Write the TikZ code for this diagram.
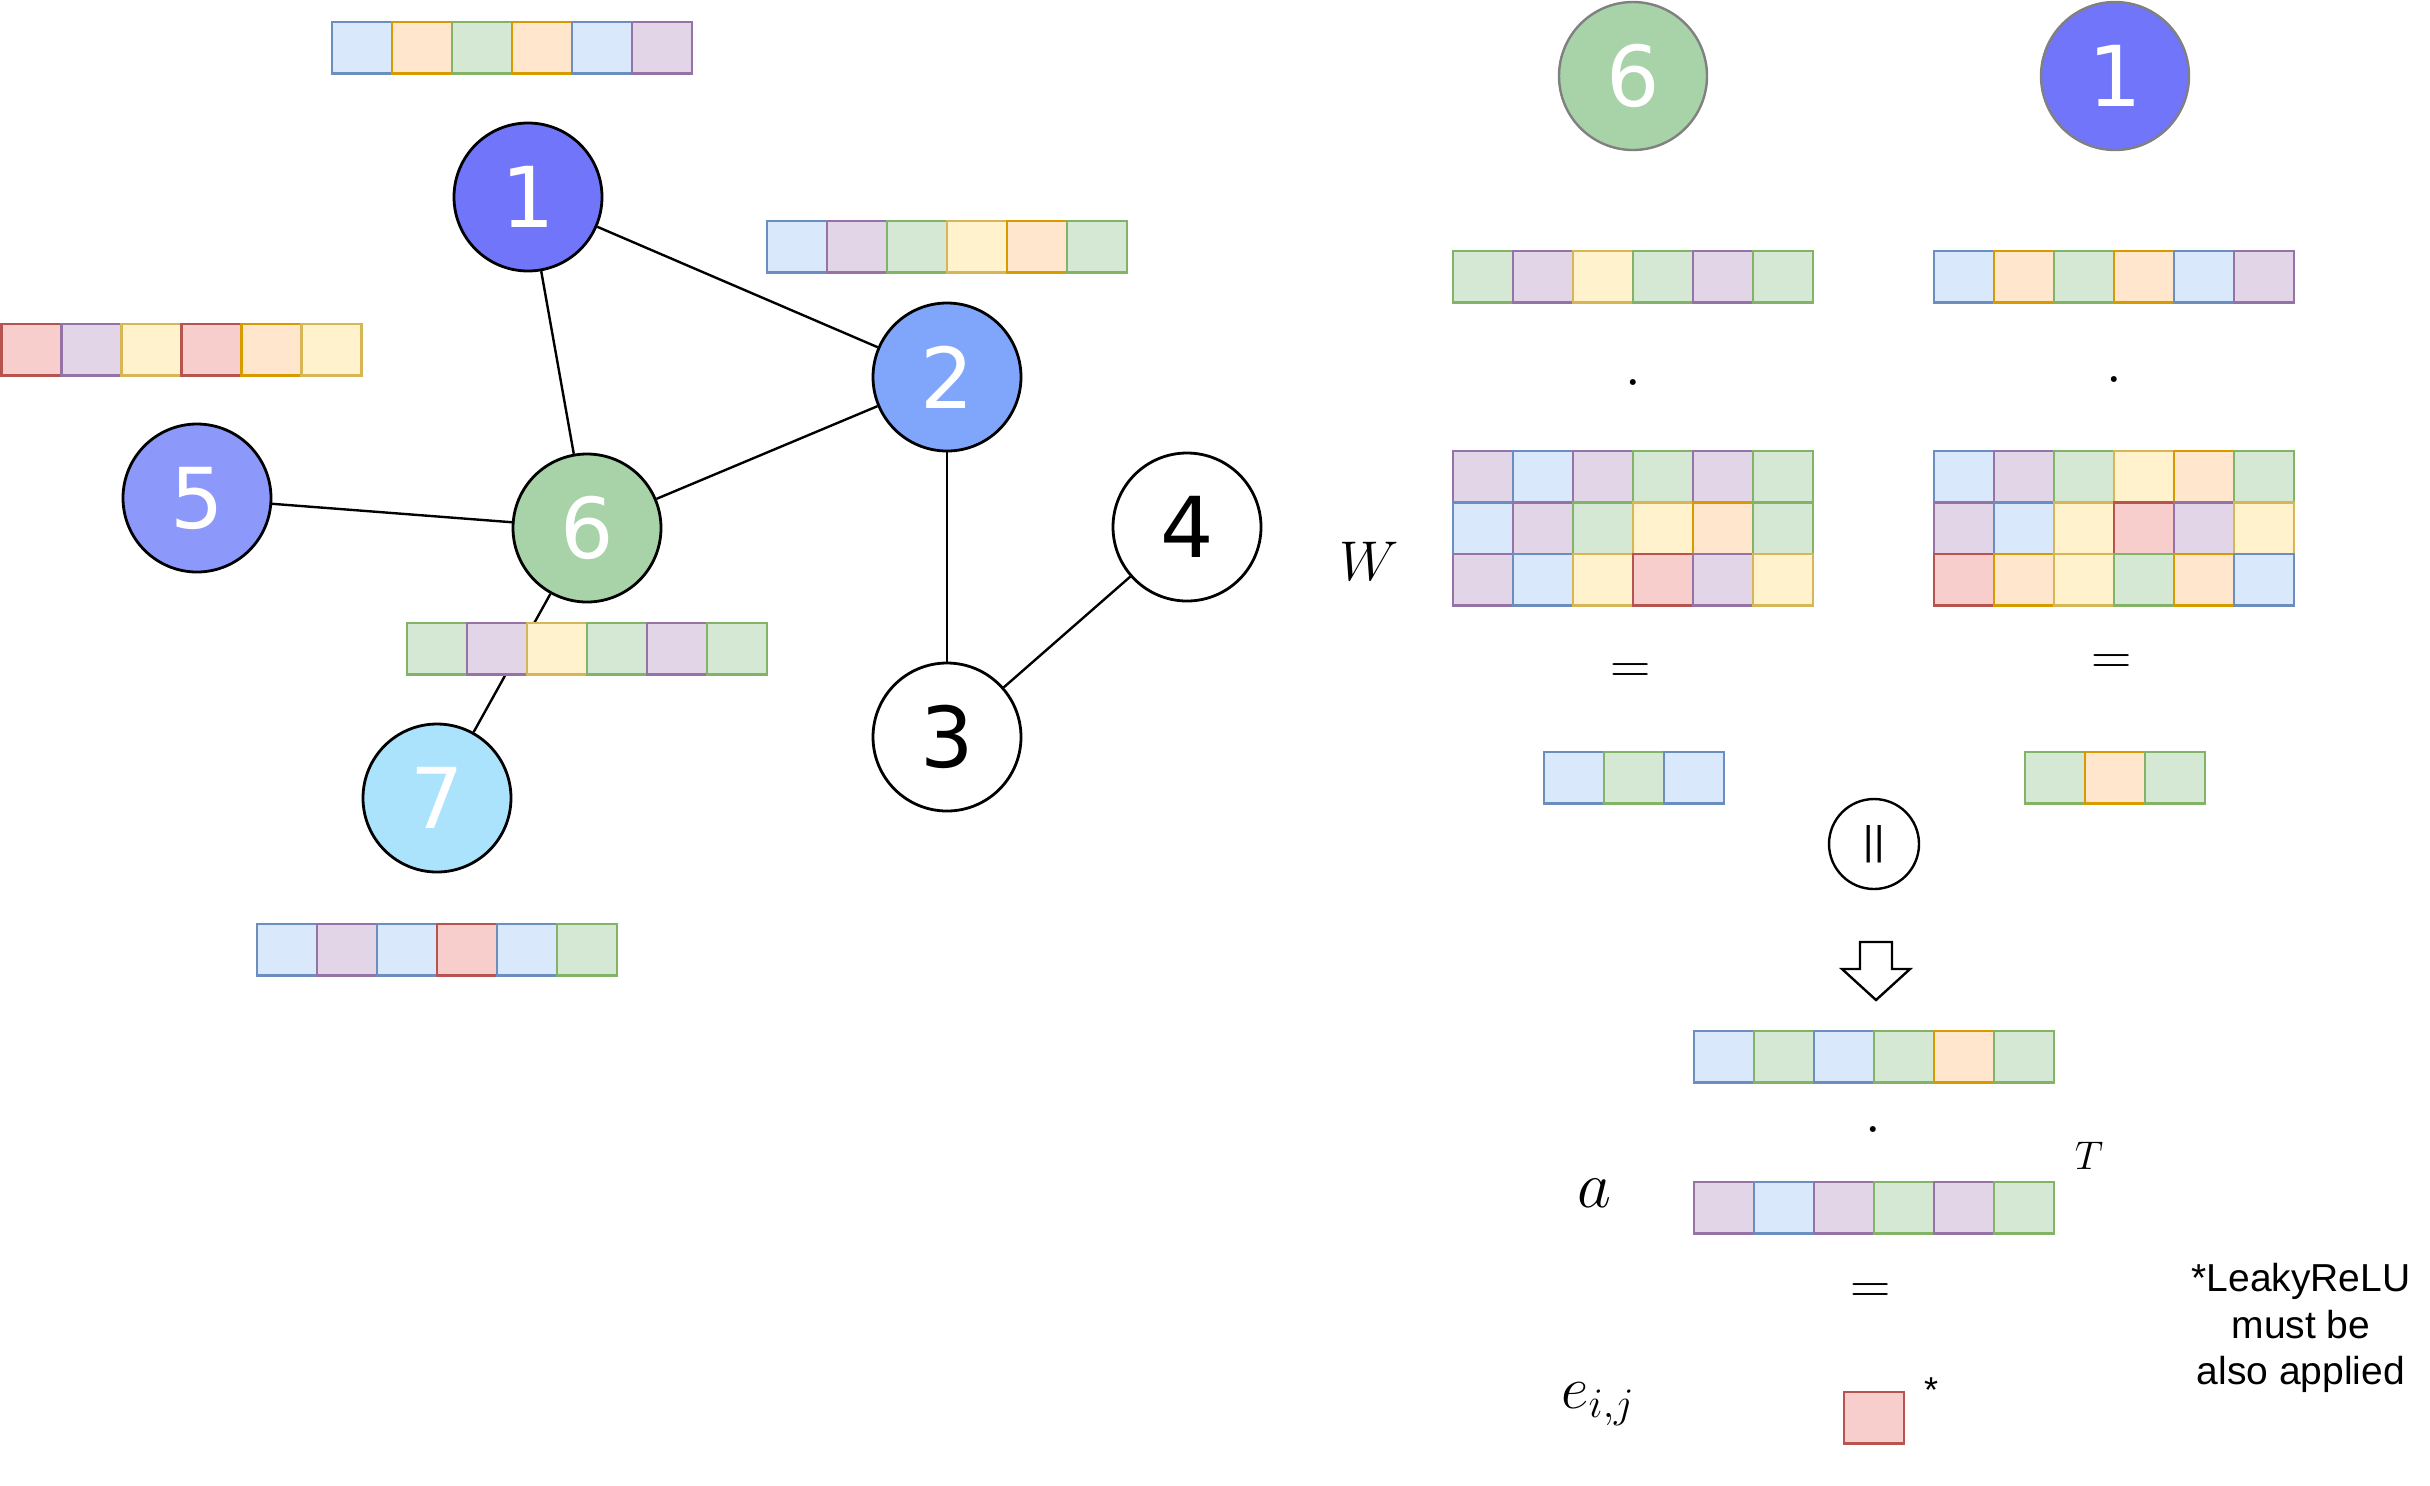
\RequirePackage{fix-cm}
\documentclass[tikz,border=0pt]{standalone}
\usepackage{fontspec}
\newfontfamily\numfont{DejaVu Sans}
\newfontfamily\notefont{Liberation Sans}
\definecolor{fB}{HTML}{DAE8FC}\definecolor{sB}{HTML}{6C8EBF}
\definecolor{fO}{HTML}{FFE6CC}\definecolor{sO}{HTML}{D79B00}
\definecolor{fG}{HTML}{D5E8D4}\definecolor{sG}{HTML}{82B366}
\definecolor{fY}{HTML}{FFF2CC}\definecolor{sY}{HTML}{D6B656}
\definecolor{fP}{HTML}{E1D5E7}\definecolor{sP}{HTML}{9673A6}
\definecolor{fR}{HTML}{F8CECC}\definecolor{sR}{HTML}{B85450}
\definecolor{nOne}{HTML}{7175F9}
\definecolor{nTwo}{HTML}{7FA6FB}
\definecolor{nFive}{HTML}{8C98FA}
\definecolor{nSix}{HTML}{A8D2A7}
\definecolor{nSeven}{HTML}{ABE3FC}
\definecolor{rimgray}{HTML}{808080}
\newcommand\vecbar[3]{%
  \foreach \c [count=\i from 0] in {#3} {\draw[cell,\c] ({#1+\i*60},#2) rectangle ++(60,51.5);}}
\begin{document}
\begin{tikzpicture}[x=0.5pt,y=-0.5pt,
  cell/.style={line width=1.4pt},
  cb/.style={fill=fB,draw=sB}, co/.style={fill=fO,draw=sO},
  cg/.style={fill=fG,draw=sG}, cy/.style={fill=fY,draw=sY},
  cp/.style={fill=fP,draw=sP}, cr/.style={fill=fR,draw=sR},
  gnode/.style={circle,draw=black,line width=1.4pt,minimum size=74pt,inner sep=0pt,
    font=\numfont\fontsize{42}{42}\selectfont},
  rnode/.style={gnode,draw=rimgray,line width=1.2pt},
  edge/.style={line width=1.2pt},
  mathlbl/.style={inner sep=0pt,font=\fontsize{28}{28}\selectfont},
  oplbl/.style={inner sep=0pt,font=\fontsize{28}{28}\selectfont},
]
\useasboundingbox (0,0) rectangle (2430,1485);

% graph nodes
\node[gnode,fill=nOne,text=white] (n1) at (528,197) {1};
\node[gnode,fill=nTwo,text=white] (n2) at (947,377) {2};
\node[gnode,fill=nFive,text=white] (n5) at (197,498) {5};
\node[gnode,fill=nSix,text=white] (n6) at (587,528) {6};
\node[gnode,fill=white] (n4) at (1187,527) {4};
\node[gnode,fill=white] (n3) at (947,737) {3};
\node[gnode,fill=nSeven,text=white] (n7) at (437,798) {7};

\draw[edge] (n1) -- (n2);
\draw[edge] (n1) -- (n6);
\draw[edge] (n2) -- (n6);
\draw[edge] (n5) -- (n6);
\draw[edge] (n2) -- (n3);
\draw[edge] (n3) -- (n4);
\draw[edge] (n6) -- (n7);

% feature vectors of the graph
\vecbar{332}{22}{cb,co,cg,co,cb,cp}
\vecbar{767}{221}{cb,cp,cg,cy,co,cg}
\vecbar{1.5}{324}{cr,cp,cy,cr,co,cy}
\vecbar{407}{623}{cg,cp,cy,cg,cp,cg}
\vecbar{257}{924}{cb,cp,cb,cr,cb,cg}

% right part
\node[rnode,fill=nSix,text=white] (r6) at (1633,76) {6};
\node[rnode,fill=nOne,text=white] (r1) at (2115,76) {1};

\vecbar{1453}{251}{cg,cp,cy,cg,cp,cg}
\vecbar{1934}{251}{cb,co,cg,co,cb,cp}

\node[oplbl] (dotL) at (1633,384) {$\cdot$};
\node[oplbl] (dotR) at (2114,381) {$\cdot$};

\vecbar{1453}{451}{cp,cb,cp,cg,cp,cg}
\vecbar{1453}{502.5}{cb,cp,cg,cy,co,cg}
\vecbar{1453}{554}{cp,cb,cy,cr,cp,cy}
\vecbar{1934}{451}{cb,cp,cg,cy,co,cg}
\vecbar{1934}{502.5}{cp,cb,cy,cr,cp,cy}
\vecbar{1934}{554}{cr,co,cy,cg,co,cb}

\node[mathlbl] (W) at (1369,561) {$W$};

\node[oplbl] (eqL) at (1631,674) {$=$};
\node[oplbl] (eqR) at (2112,665) {$=$};

\vecbar{1544}{752}{cb,cg,cb}
\vecbar{2025}{752}{cg,co,cg}

\node[circle,draw=black,line width=1.2pt,minimum size=45pt,inner sep=0pt,
  font=\notefont\fontsize{20}{20}\selectfont] (cat) at (1874,844) {||};

\draw[line width=1.2pt,line join=miter,fill=white] (1860,942) -- (1892,942) -- (1892,969) -- (1910,969)
  -- (1876,1000) -- (1842,969) -- (1860,969) -- cycle;

\vecbar{1694}{1031}{cb,cg,cb,cg,co,cg}
\node[oplbl] (dotA) at (1873,1131) {$\cdot$};
\node[inner sep=0pt,font=\fontsize{20}{20}\selectfont] (T) at (2089,1156) {$T$};
\node[inner sep=0pt,font=\fontsize{33}{33}\selectfont] (a) at (1594,1193) {$a$};
\vecbar{1694}{1182}{cp,cb,cp,cg,cp,cg}
\node[oplbl] (eqA) at (1871,1294) {$=$};
\node[inner sep=0pt,font=\fontsize{30}{30}\selectfont] (e) at (1598,1404) {$e_{i,j}$};
\vecbar{1844}{1392}{cr}
\node[inner sep=0pt,font=\notefont\fontsize{18}{18}\selectfont] (star) at (1931,1390) {*};
\node[inner sep=0pt,align=center,font=\notefont\fontsize{19.5}{23.3}\selectfont] (note) at (2301,1328)
  {*LeakyReLU\\must be\\also applied};
\end{tikzpicture}
\end{document}
